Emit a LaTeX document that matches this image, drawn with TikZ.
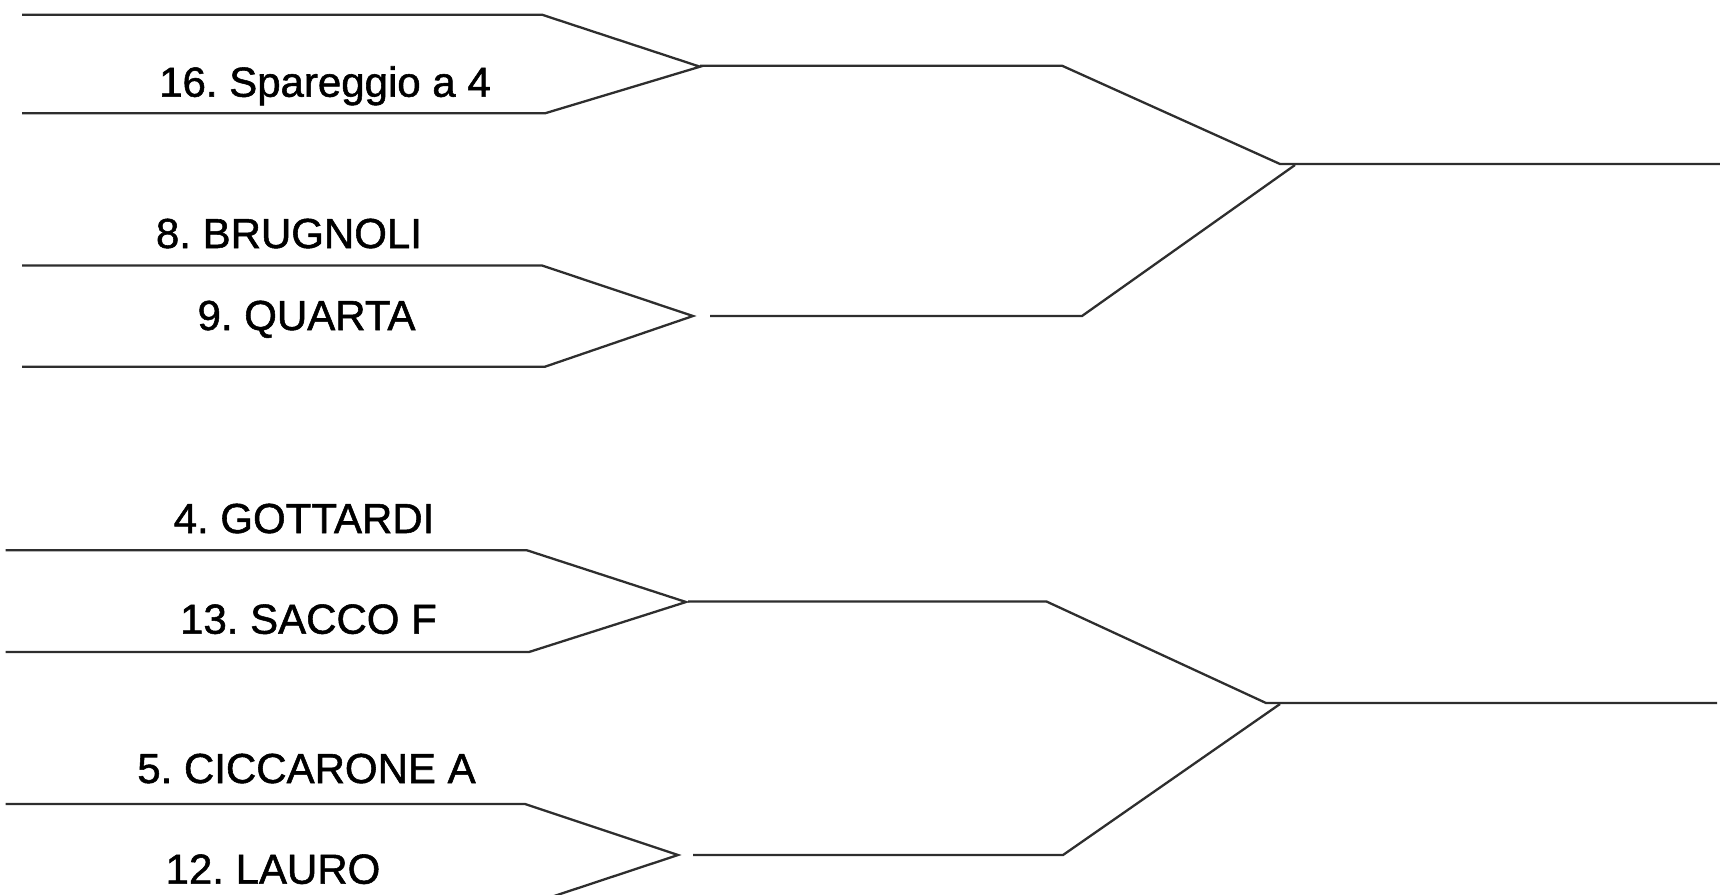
\documentclass[tikz,border=0pt]{standalone}
\usepackage{fontspec}
\setmainfont{Liberation Sans}
\newfontfamily\lblfont[FakeBold=1.3]{Liberation Sans}
\frenchspacing
\begin{document}
\begin{tikzpicture}[x=1pt,y=-1pt,
  br/.style={draw=black!82,line width=2.3pt,line join=miter},
  lbl/.style={anchor=base,inner sep=0pt,text=black,font=\lblfont\fontsize{42}{48}\selectfont}]
\useasboundingbox (0,0) rectangle (1720,894);
\clip (0,0) rectangle (1720,894);
% round 1 pair 1
\coordinate (a1) at (22,14.7);   \coordinate (b1) at (542,14.7);
\coordinate (v1) at (700,66.7);
\coordinate (c1) at (545,113.3); \coordinate (d1) at (22,113.3);
% pair 2
\coordinate (a2) at (22,265.5);  \coordinate (b2) at (542,265.5);
\coordinate (v2) at (693,316);
\coordinate (c2) at (545,366.7); \coordinate (d2) at (22,366.7);
% pair 3
\coordinate (a3) at (5.5,550.3); \coordinate (b3) at (527,550.3);
\coordinate (v3) at (686,602);
\coordinate (c3) at (529,652);   \coordinate (d3) at (5.5,652);
% pair 4
\coordinate (a4) at (5.5,804);   \coordinate (b4) at (525,804);
\coordinate (v4) at (678,855);
\coordinate (c4) at (527,905);   \coordinate (d4) at (5.5,905);
% round 2
\coordinate (m1s) at (700,65.7);  \coordinate (m1e) at (1062,65.7);
\coordinate (m2s) at (710,316);   \coordinate (m2e) at (1082,316);
\coordinate (s1) at (1280,164);   \coordinate (s1b) at (1295,165);
\coordinate (f1) at (1720,164);
\coordinate (m3s) at (688,601.5); \coordinate (m3e) at (1046.5,601.5);
\coordinate (m4s) at (693,855);   \coordinate (m4e) at (1063,855);
\coordinate (s2) at (1266,703);   \coordinate (s2b) at (1280,704);
\coordinate (f2) at (1717,703);

\draw[br] (a1) -- (b1) -- (v1) -- (c1) -- (d1);
\draw[br] (a2) -- (b2) -- (v2) -- (c2) -- (d2);
\draw[br] (a3) -- (b3) -- (v3) -- (c3) -- (d3);
\draw[br] (a4) -- (b4) -- (v4) -- (c4) -- (d4);
\draw[br] (m1s) -- (m1e) -- (s1) -- (f1);
\draw[br] (m2s) -- (m2e) -- (s1b);
\draw[br] (m3s) -- (m3e) -- (s2) -- (f2);
\draw[br] (m4s) -- (m4e) -- (s2b);

\node[lbl] (t16) at (325,96.7) {16. Spareggio a 4};
\node[lbl] (t8)  at (289,248)  {8. BRUGNOLI};
\node[lbl] (t9)  at (306.5,330) {9. QUARTA};
\node[lbl] (t4)  at (304,533)  {4. GOTTARDI};
\node[lbl] (t13) at (308.5,633.7) {13. SACCO F};
\node[lbl] (t5)  at (306.5,783) {5. CICCARONE A};
\node[lbl] (t12) at (273,883.7) {12. LAURO};
\end{tikzpicture}
\end{document}
